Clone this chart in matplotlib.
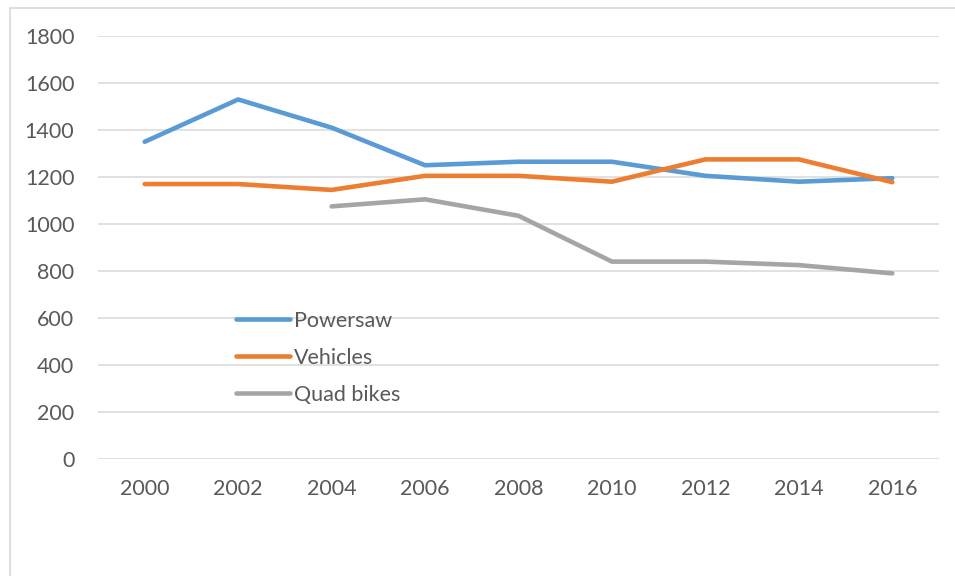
import numpy as np
import matplotlib
matplotlib.use("Agg")
import matplotlib.pyplot as plt
from matplotlib.lines import Line2D

years = ["2000", "2002", "2004", "2006", "2008", "2010", "2012", "2014", "2016"]
powersaw = [1350, 1530, 1410, 1250, 1265, 1265, 1205, 1180, 1195]
vehicles = [1170, 1170, 1145, 1205, 1205, 1180, 1275, 1275, 1178]
quad_bikes = [np.nan, np.nan, 1075, 1105, 1035, 840, 840, 825, 790]
y_ticks = [0, 200, 400, 600, 800, 1000, 1200, 1400, 1600, 1800]

plt.rcParams['font.family'] = ['Lato', 'DejaVu Sans']
W, H = 955, 576
fig = plt.figure(figsize=(W / 100, H / 100), dpi=100)
ax = fig.add_axes([98 / W, 1 - 459 / H, (939 - 98) / W, (459 - 36) / H])

x = np.arange(len(years))
colors = ["#5B9BD5", "#ED7D31", "#A5A5A5"]
for vals, c, lab in [(powersaw, colors[0], "Powersaw"),
                     (vehicles, colors[1], "Vehicles"),
                     (quad_bikes, colors[2], "Quad bikes")]:
    ax.plot(x, vals, color=c, lw=3.3, label=lab, solid_capstyle='round', zorder=3)

fs = 15.5
ax.set_xlim(-0.5, len(years) - 0.5)
ax.set_ylim(0, 1800)
ax.set_yticks(y_ticks)
ax.set_yticklabels([str(v) for v in y_ticks])
ax.set_xticks(x)
ax.set_xticklabels(years)
ax.grid(axis='y', color='#D9D9D9', lw=1.1)
ax.set_axisbelow(True)
for s in ax.spines.values():
    s.set_visible(False)
ax.tick_params(axis='both', length=0, labelsize=fs, colors='#595959')
ax.tick_params(axis='y', pad=17)
ax.tick_params(axis='x', pad=14.5)

leg = ax.legend(loc='upper left', bbox_to_anchor=(236 / W, 1 - 311 / H),
                bbox_transform=fig.transFigure, frameon=False, fontsize=fs,
                handlelength=2.5, handletextpad=0.18, labelspacing=0.78,
                borderpad=0, borderaxespad=0)
for t in leg.get_texts():
    t.set_color('#595959')

# outer chart border (top and left visible)
fig.add_artist(Line2D([10 / W, 10 / W], [0, 1 - 8 / H], color='#D9D9D9', lw=1.2,
                      transform=fig.transFigure))
fig.add_artist(Line2D([10 / W, 1], [1 - 8 / H, 1 - 8 / H], color='#D9D9D9', lw=1.2,
                      transform=fig.transFigure))

fig.savefig("out.png", dpi=100)
